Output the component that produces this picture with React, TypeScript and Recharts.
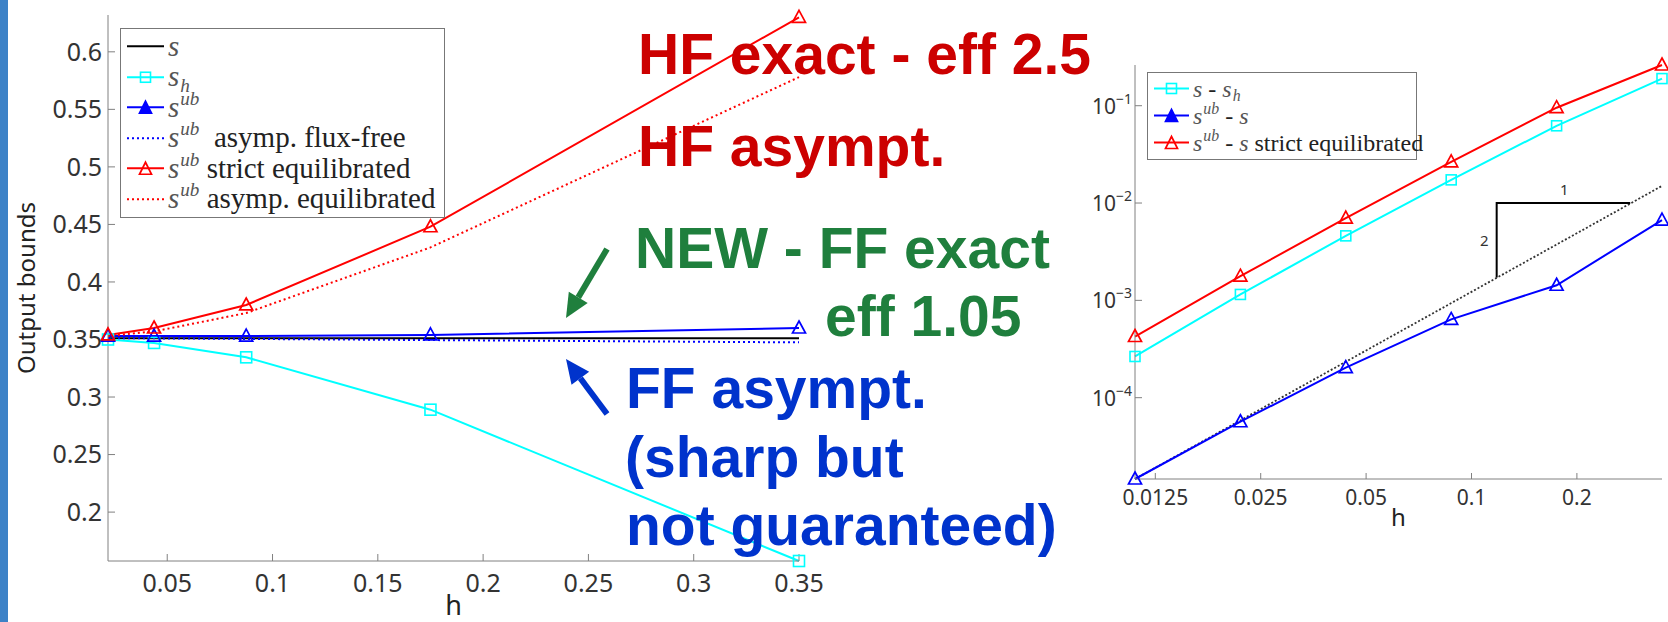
import React from 'react';
import { LineChart, Line, XAxis, YAxis, Legend, Label, ReferenceDot } from 'recharts';

// left panel: output bounds against h (linear axes)
const hLin = [0.021875, 0.04375, 0.0875, 0.175, 0.35];
const sExact = [0.351, 0.351, 0.351, 0.351, 0.351];
const sH = [0.35, 0.347, 0.3345, 0.289, 0.1575];
const sUb = [0.353, 0.353, 0.353, 0.354, 0.36];
const sUbAsympFF = [0.351, 0.351, 0.3505, 0.3495, 0.3475];
const sUbStrict = [0.354, 0.36, 0.38, 0.448, 0.63];
const sUbAsympEq = [0.353, 0.357, 0.373, 0.43, 0.578];

const linXTicks = [0.05, 0.1, 0.15, 0.2, 0.25, 0.3, 0.35];
const linYTicks = [0.2, 0.25, 0.3, 0.35, 0.4, 0.45, 0.5, 0.55, 0.6];
const linXDomain = [0.021875, 0.35];
const linYDomain = [0.1575, 0.632];

// right panel: errors against h (log-log)
const hLog = [0.0109375, 0.021875, 0.04375, 0.0875, 0.175, 0.35];
const errH = [2.65e-4, 1.15e-3, 4.6e-3, 0.0173, 0.0622, 0.19];
const errUb = [1.46e-5, 5.66e-5, 2.04e-4, 6.37e-4, 1.43e-3, 6.68e-3];
const errUbStrict = [4.25e-4, 1.77e-3, 7.0e-3, 0.0265, 0.0954, 0.262];
const slopeRef = [1.46e-5, null, null, null, null, 0.015];
const triH = [0.284, 0.118, 0.118];
const triV = [0.01, 0.01, 0.00172];

const logXTicks = [0.0125, 0.025, 0.05, 0.1, 0.2];
const logYTicks = [1e-4, 1e-3, 1e-2, 1e-1];
const logDecades = [1e-5, 1e-4, 1e-3, 1e-2, 1e-1];
const logMinorMult = [2, 3, 4, 5, 6, 7, 8, 9];
const logXDomain = [0.0109375, 0.35];
const logYDomain = [1.46e-5, 0.262];

const leftRows = hLin.map((h, i) => ({
  h, s: sExact[i], sh: sH[i], sub: sUb[i], subFF: sUbAsympFF[i], subStrict: sUbStrict[i], subEq: sUbAsympEq[i],
}));
const rightRows = hLog.map((h, i) => ({
  h, errH: errH[i], errUb: errUb[i], errUbStrict: errUbStrict[i], slope: slopeRef[i],
}));
const triRows = triH.map((h, i) => ({ h, v: triV[i] }));
const minorTicks = logDecades
  .flatMap((d) => logMinorMult.map((m) => m * d))
  .filter((v) => v > logYDomain[0] && v < logYDomain[1]);

type Tok = { t: string; it?: boolean; sub?: boolean; sup?: boolean };
type Entry = { color: string; dash?: string; marker?: 'tri' | 'sq' | 'triFill'; label: Tok[] };

const leftLegend: Entry[] = [
  { color: '#000000', label: [{ t: 's', it: true }] },
  { color: '#00FFFF', marker: 'sq', label: [{ t: 's', it: true }, { t: 'h', it: true, sub: true }] },
  { color: '#0000FF', marker: 'triFill', label: [{ t: 's', it: true }, { t: 'ub', it: true, sup: true }] },
  { color: '#0000FF', dash: '2 3', label: [{ t: 's', it: true }, { t: 'ub', it: true, sup: true }, { t: '\u00a0 asymp. flux-free' }] },
  { color: '#FF0000', marker: 'tri', label: [{ t: 's', it: true }, { t: 'ub', it: true, sup: true }, { t: ' strict equilibrated' }] },
  { color: '#FF0000', dash: '2 3', label: [{ t: 's', it: true }, { t: 'ub', it: true, sup: true }, { t: ' asymp. equilibrated' }] },
];

const rightLegend: Entry[] = [
  { color: '#00FFFF', marker: 'sq', label: [{ t: 's', it: true }, { t: ' - ' }, { t: 's', it: true }, { t: 'h', it: true, sub: true }] },
  { color: '#0000FF', marker: 'triFill', label: [{ t: 's', it: true }, { t: 'ub', it: true, sup: true }, { t: ' - ' }, { t: 's', it: true }] },
  { color: '#FF0000', marker: 'tri', label: [{ t: 's', it: true }, { t: 'ub', it: true, sup: true }, { t: ' - ' }, { t: 's', it: true }, { t: ' strict equilibrated' }] },
];

const notes = [
  { text: 'HF exact - eff 2.5', x: 638, y: 74, color: '#CC0000' },
  { text: 'HF asympt.', x: 638, y: 166, color: '#CC0000' },
  { text: 'NEW - FF exact', x: 635, y: 268, color: '#1F7F3D' },
  { text: 'eff 1.05', x: 825, y: 336, color: '#1F7F3D' },
  { text: 'FF asympt.', x: 626, y: 408, color: '#0033CC' },
  { text: '(sharp but', x: 625, y: 477, color: '#0033CC' },
  { text: 'not guaranteed)', x: 626, y: 545, color: '#0033CC' },
];
const arrows = [
  { x1: 607, y1: 249, x2: 566, y2: 318, color: '#1F7F3D' },
  { x1: 607, y1: 414, x2: 566, y2: 359, color: '#0033CC' },
];

const AXIS = '#808080';
const TICK_FONT = 'Noto Sans, sans-serif';

function TriDot(props: any) {
  const { cx, cy, stroke, size = 13, filled } = props;
  if (cx == null || cy == null) return null;
  const d = `M${cx},${cy - 7} L${cx + size / 2},${cy + 5} L${cx - size / 2},${cy + 5} Z`;
  return <path d={d} fill={filled ? stroke : 'none'} stroke={stroke} strokeWidth={1.7} />;
}

function SqDot(props: any) {
  const { cx, cy, stroke, size = 11 } = props;
  if (cx == null || cy == null) return null;
  return <rect x={cx - size / 2} y={cy - size / 2} width={size} height={size} fill="none" stroke={stroke} strokeWidth={1.6} />;
}

function PowTick(props: any) {
  const { x, y, payload } = props;
  const exp = Math.round(Math.log10(payload.value));
  return (
    <text x={x} y={y} textAnchor="end" fill="#333" fontFamily={TICK_FONT} fontSize={21}>
      <tspan dy={8}>10</tspan>
      <tspan dy={-10} fontSize={14}>{'\u2212' + Math.abs(exp)}</tspan>
    </text>
  );
}

function LegendBox({ entries, width, rowH, fontSize, textX }: { entries: Entry[]; width: number; rowH: number; fontSize: number; textX: number }) {
  return (
    <div style={{ width, border: '1.5px solid #777', background: '#fff', padding: '2px 0 3px 0', fontFamily: 'Liberation Serif, serif', fontSize, color: '#222' }}>
      {entries.map((e, i) => (
        <div key={i} style={{ display: 'flex', alignItems: 'center', height: rowH, whiteSpace: 'nowrap' }}>
          <svg width={textX} height={rowH} style={{ flex: 'none' }}>
            <line x1={6} x2={textX - 4} y1={rowH / 2} y2={rowH / 2} stroke={e.color} strokeWidth={2.2} strokeDasharray={e.dash} />
            {e.marker === 'sq' && <SqDot cx={(textX + 2) / 2} cy={rowH / 2} stroke={e.color} size={10} />}
            {e.marker === 'tri' && <TriDot cx={(textX + 2) / 2} cy={rowH / 2 + 1} stroke={e.color} size={12} />}
            {e.marker === 'triFill' && <TriDot cx={(textX + 2) / 2} cy={rowH / 2 + 1} stroke={e.color} size={12} filled />}
          </svg>
          <span style={{ lineHeight: 1 }}>
            {e.label.map((tk, j) => (
              <span
                key={j}
                style={{
                  fontStyle: tk.it ? 'italic' : 'normal',
                  fontSize: tk.sub || tk.sup ? '0.66em' : undefined,
                  position: 'relative',
                  top: tk.sup ? '-0.62em' : tk.sub ? '0.3em' : undefined,
                  marginLeft: tk.sub || tk.sup ? 1 : undefined,
                  color: tk.it ? '#555' : undefined,
                }}
              >
                {tk.t}
              </span>
            ))}
          </span>
        </div>
      ))}
    </div>
  );
}

function Arrow({ x1, y1, x2, y2, color }: { x1: number; y1: number; x2: number; y2: number; color: string }) {
  const a = Math.atan2(y2 - y1, x2 - x1);
  const len = 24;
  const half = 11;
  const bx = x2 - len * Math.cos(a);
  const by = y2 - len * Math.sin(a);
  const px = -Math.sin(a) * half;
  const py = Math.cos(a) * half;
  return (
    <g>
      <line x1={x1} y1={y1} x2={bx} y2={by} stroke={color} strokeWidth={6} />
      <polygon points={`${x2},${y2} ${bx + px},${by + py} ${bx - px},${by - py}`} fill={color} />
    </g>
  );
}

export default function App() {
  const tickStyle = { fill: '#333', fontSize: 25, fontFamily: TICK_FONT };
  const tickStyleR = { fill: '#333', fontSize: 21, fontFamily: TICK_FONT };
  return (
    <div style={{ position: 'relative', width: 1668, height: 622, background: '#fff', overflow: 'hidden' }}>
      <style>{'body{margin:0}'}</style>
      <div style={{ position: 'absolute', left: 0, top: 0, width: 8, height: 622, background: '#3D82C7' }} />

      <div style={{ position: 'absolute', left: 0, top: 0 }}>
        <LineChart width={830} height={622} data={leftRows} margin={{ top: 15, right: 31, bottom: 1, left: 8 }}>
          <XAxis
            dataKey="h" type="number" domain={linXDomain} ticks={linXTicks} height={60}
            tickSize={-7} tickMargin={20} stroke={AXIS} tick={tickStyle} tickFormatter={(v) => String(v)}
          >
            <Label value="h" position="insideBottom" offset={6} fill="#222" fontSize={27} fontFamily={TICK_FONT} />
          </XAxis>
          <XAxis xAxisId="top" orientation="top" mirror height={0} type="number" domain={linXDomain} ticks={linXTicks} tick={false} tickSize={7} stroke={AXIS} allowDataOverflow />
          <YAxis type="number" domain={linYDomain} ticks={linYTicks} width={100} tickSize={-7} tickMargin={13} stroke={AXIS} tick={tickStyle}>
            <Label
              content={(p: any) => {
                const vb = p.viewBox || { x: 8, y: 15, width: 100, height: 546 };
                const cx = vb.x + 17;
                const cy = vb.y + vb.height / 2;
                return (
                  <text x={cx} y={cy} transform={`rotate(-90 ${cx} ${cy})`} textAnchor="middle" dominantBaseline="central" fill="#222" fontSize={24} fontFamily={TICK_FONT}>
                    Output bounds
                  </text>
                );
              }}
            />
          </YAxis>
          <YAxis yAxisId="right" orientation="right" mirror width={0} type="number" domain={linYDomain} ticks={linYTicks} tick={false} tickSize={7} stroke={AXIS} allowDataOverflow />
          <Legend
            layout="vertical" align="center" verticalAlign="middle"
            wrapperStyle={{ left: 120, top: 28, width: 'auto' }}
            content={() => <LegendBox entries={leftLegend} width={323} rowH={30.5} fontSize={29} textX={47} />}
          />
          <Line dataKey="s" stroke="#000" strokeWidth={2} dot={false} isAnimationActive={false} />
          <Line dataKey="sh" stroke="#00FFFF" strokeWidth={2} dot={(p: any) => <SqDot key={p.index} {...p} />} isAnimationActive={false} />
          <Line dataKey="sub" stroke="#0000FF" strokeWidth={2} dot={(p: any) => <TriDot key={p.index} {...p} />} isAnimationActive={false} />
          <Line dataKey="subFF" stroke="#0000FF" strokeWidth={2} strokeDasharray="2 3" dot={false} isAnimationActive={false} />
          <Line dataKey="subStrict" stroke="#FF0000" strokeWidth={2} dot={(p: any) => <TriDot key={p.index} {...p} />} isAnimationActive={false} />
          <Line dataKey="subEq" stroke="#FF0000" strokeWidth={2} strokeDasharray="2 3" dot={false} isAnimationActive={false} />
        </LineChart>
      </div>

      <div style={{ position: 'absolute', left: 1040, top: 0 }}>
        <LineChart width={628} height={622} data={rightRows} margin={{ top: 65, right: 6, bottom: 93, left: 25 }}>
          <XAxis
            dataKey="h" type="number" scale="log" domain={logXDomain} ticks={logXTicks} height={50}
            tickSize={-6} tickMargin={17} stroke={AXIS} tick={tickStyleR} tickFormatter={(v) => String(v)}
          >
            <Label value="h" position="insideBottom" offset={3} fill="#222" fontSize={24} fontFamily={TICK_FONT} />
          </XAxis>
          <XAxis xAxisId="top" orientation="top" mirror height={0} type="number" scale="log" domain={logXDomain} ticks={logXTicks} tick={false} tickSize={6} stroke={AXIS} allowDataOverflow />
          <YAxis type="number" scale="log" domain={logYDomain} ticks={logYTicks} width={70} tickSize={-7} tickMargin={10} stroke={AXIS} tick={<PowTick />} />
          <YAxis yAxisId="minorL" orientation="left" mirror width={0} type="number" scale="log" domain={logYDomain} ticks={minorTicks} tick={false} tickSize={4} axisLine={false} stroke={AXIS} allowDataOverflow />
          <YAxis yAxisId="right" orientation="right" mirror width={0} type="number" scale="log" domain={logYDomain} ticks={logYTicks} tick={false} tickSize={7} stroke={AXIS} allowDataOverflow />
          <YAxis yAxisId="minorR" orientation="right" mirror width={0} type="number" scale="log" domain={logYDomain} ticks={minorTicks} tick={false} tickSize={4} axisLine={false} stroke={AXIS} allowDataOverflow />
          <Legend
            layout="vertical" align="center" verticalAlign="middle"
            wrapperStyle={{ left: 107, top: 72, width: 'auto' }}
            content={() => <LegendBox entries={rightLegend} width={268} rowH={27} fontSize={24} textX={45} />}
          />
          <Line dataKey="slope" stroke="#333" strokeWidth={1.8} strokeDasharray="2 2" connectNulls dot={false} isAnimationActive={false} />
          <Line data={triRows} dataKey="v" stroke="#000" strokeWidth={2} dot={false} isAnimationActive={false} />
          <Line dataKey="errH" stroke="#00FFFF" strokeWidth={2} dot={(p: any) => <SqDot key={p.index} {...p} size={10} />} isAnimationActive={false} />
          <Line dataKey="errUb" stroke="#0000FF" strokeWidth={2} dot={(p: any) => <TriDot key={p.index} {...p} />} isAnimationActive={false} />
          <Line dataKey="errUbStrict" stroke="#FF0000" strokeWidth={2} dot={(p: any) => <TriDot key={p.index} {...p} />} isAnimationActive={false} />
          <ReferenceDot x={0.184} y={0.01} r={0} fill="none" stroke="none" label={{ value: '1', position: 'top', offset: 8, fill: '#333', fontSize: 15, fontFamily: TICK_FONT }} />
          <ReferenceDot x={0.118} y={0.00415} r={0} fill="none" stroke="none" label={{ value: '2', position: 'left', offset: 8, fill: '#333', fontSize: 15, fontFamily: TICK_FONT }} />
        </LineChart>
      </div>

      <svg width={1668} height={622} style={{ position: 'absolute', left: 0, top: 0, pointerEvents: 'none' }}>
        {notes.map((n, i) => (
          <text key={i} x={n.x} y={n.y} fill={n.color} fontFamily="Liberation Sans, Arial, sans-serif" fontWeight="bold" fontSize={57}>
            {n.text}
          </text>
        ))}
        {arrows.map((a, i) => (
          <Arrow key={i} {...a} />
        ))}
      </svg>
    </div>
  );
}
